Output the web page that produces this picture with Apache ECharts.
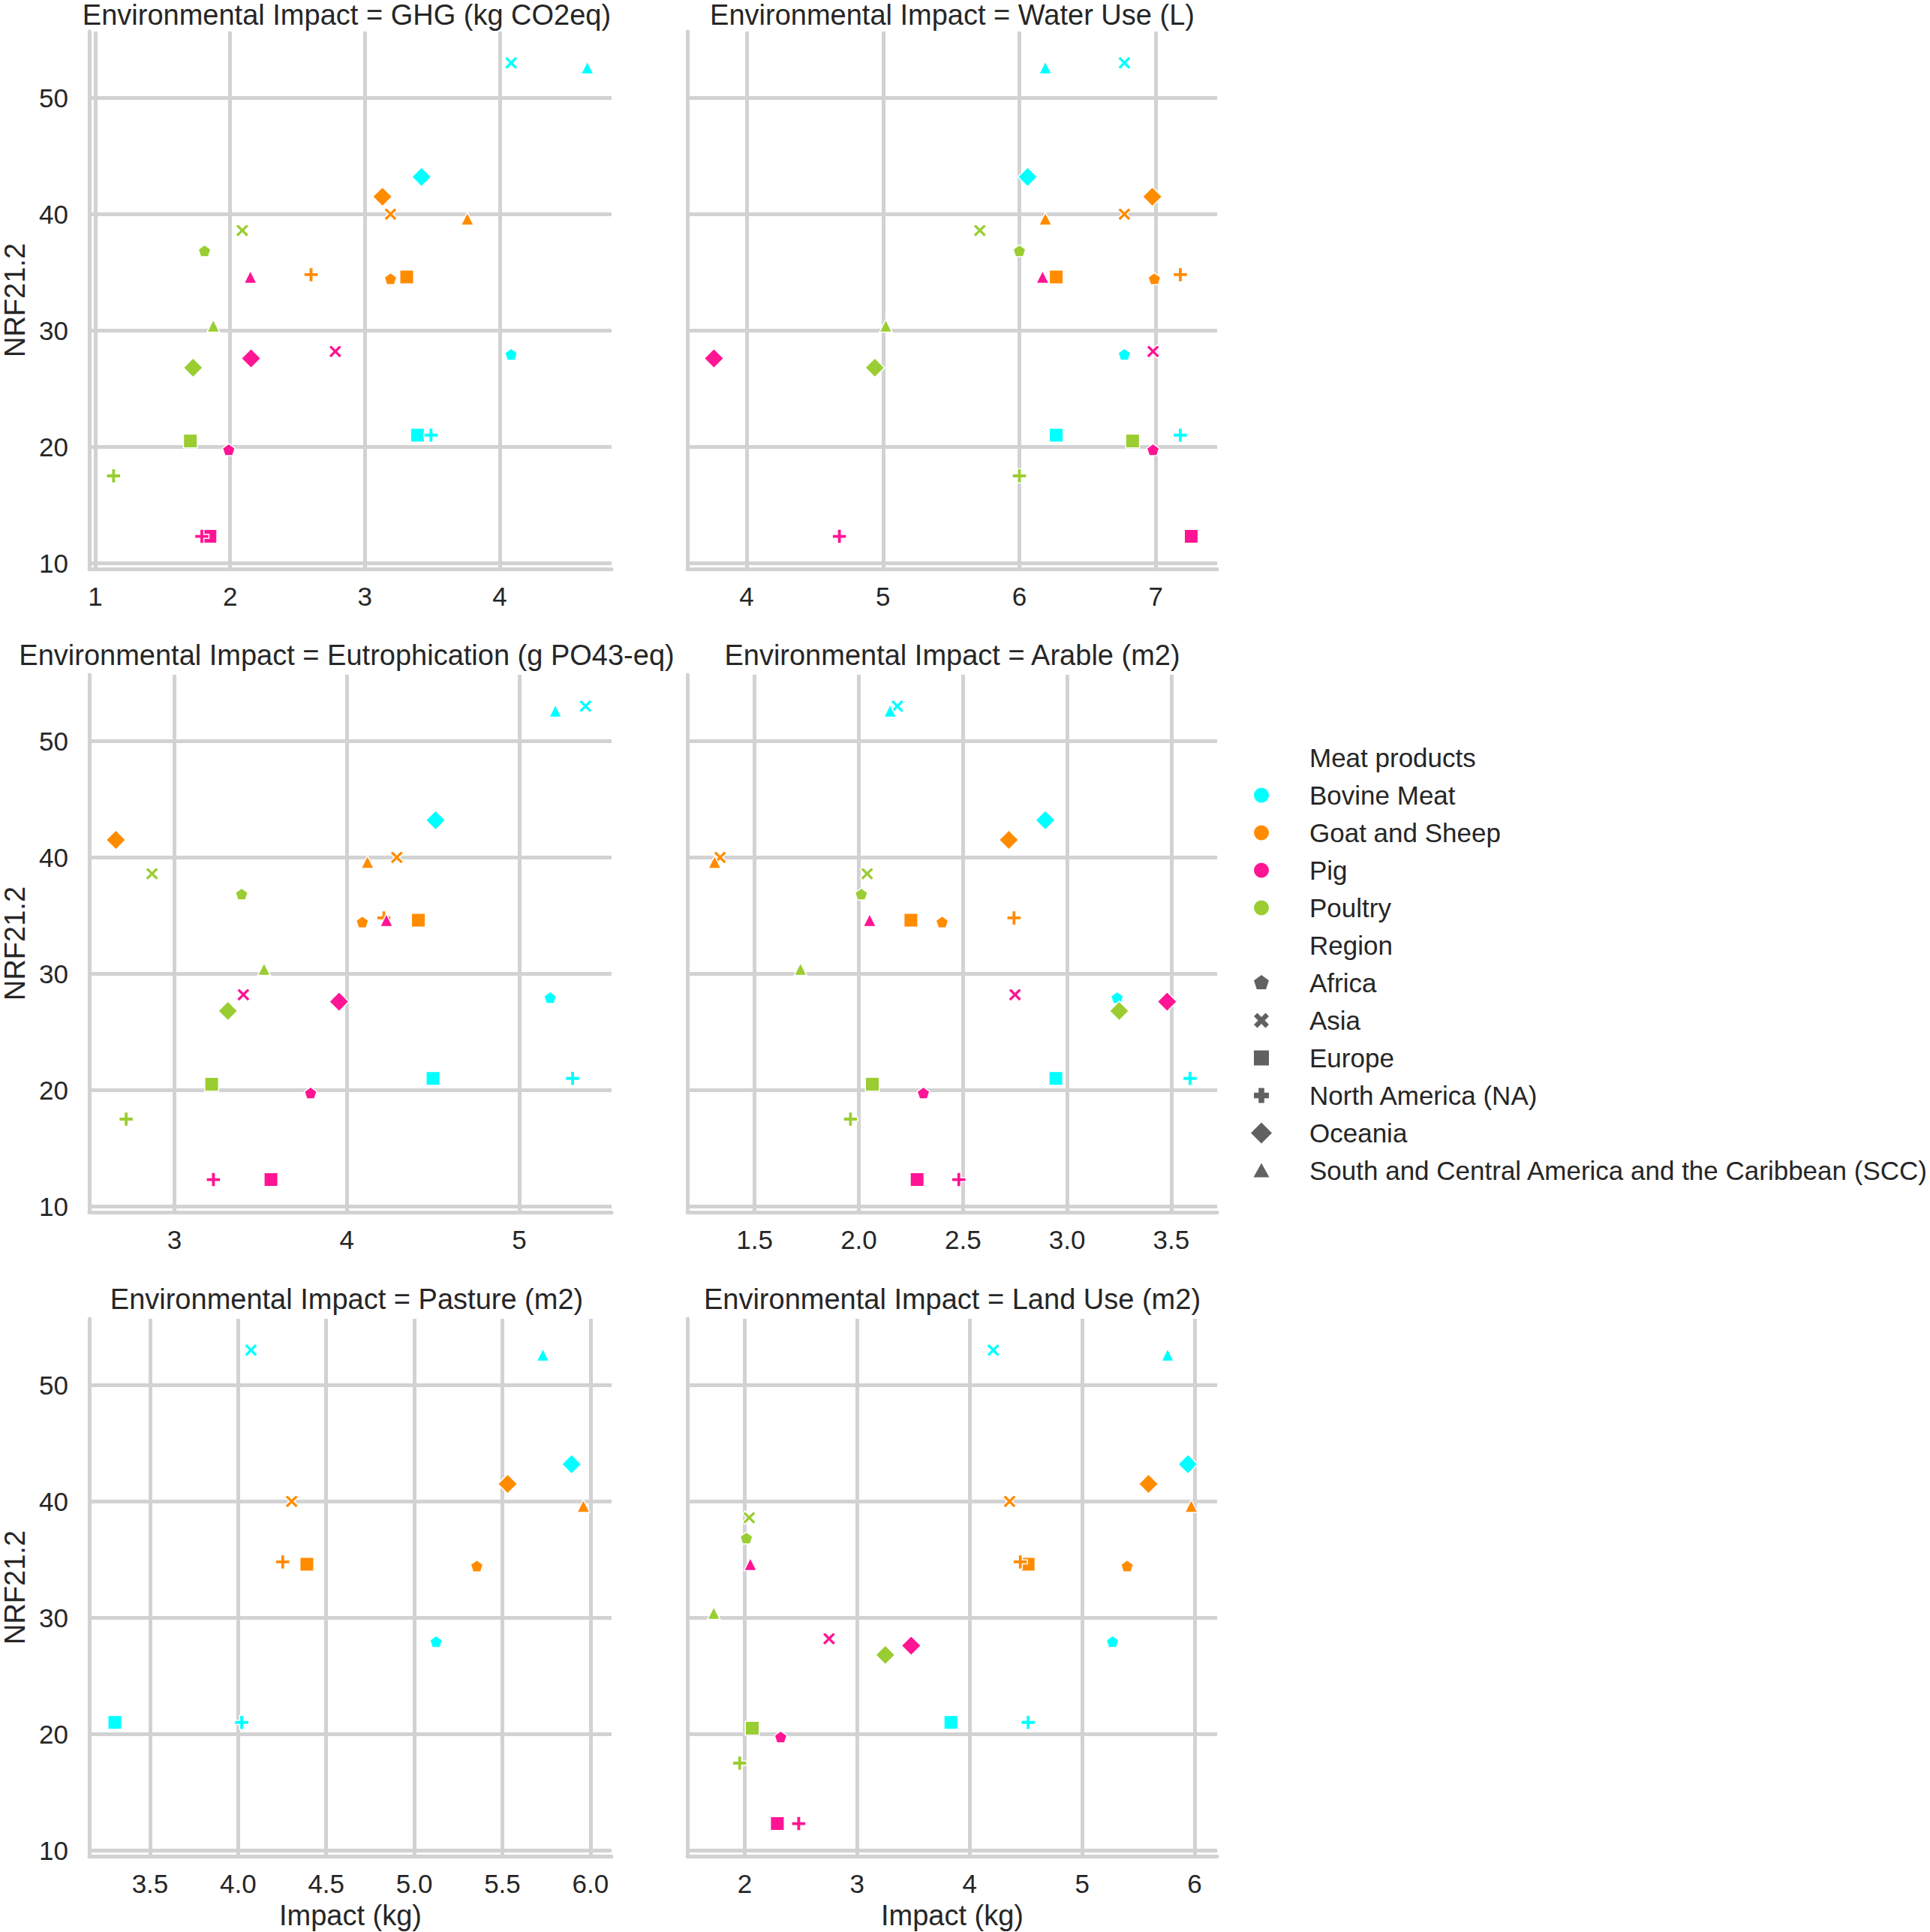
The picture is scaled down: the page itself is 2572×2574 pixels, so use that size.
<!DOCTYPE html>
<html>
<head>
<meta charset="utf-8">
<script src="https://cdn.jsdelivr.net/npm/echarts@6/dist/echarts.min.js"></script>
<style>html,body{margin:0;padding:0;background:#fff}#c{width:2572px;height:2574px}</style>
</head>
<body>
<div id="c"></div>
<script>
// ---------------- DATA ----------------
const products = ['Bovine Meat', 'Goat and Sheep', 'Pig', 'Poultry'];
const regions = ['Africa', 'Asia', 'Europe', 'North America (NA)', 'Oceania', 'South and Central America and the Caribbean (SCC)'];
const impactNames = ['GHG (kg CO2eq)', 'Water Use (L)', 'Eutrophication (g PO43-eq)', 'Arable (m2)', 'Pasture (m2)', 'Land Use (m2)'];

// NRF21.2 score per product, regions in the order above
const nrfBovine  = [27.9, 53.0, 21.0, 21.0, 43.2, 52.6];
const nrfGoat    = [34.4, 40.0, 34.6, 34.8, 41.5, 39.6];
const nrfPig     = [19.7, 28.2, 12.3, 12.3, 27.6, 34.6];
const nrfPoultry = [36.8, 38.6, 20.5, 17.5, 26.8, 30.4];

// Impact (kg) per panel: rows = products, columns = regions
const ghgImpact = [
  [4.085, 4.085, 3.39, 3.49, 3.42, 4.65],
  [3.19, 3.19, 3.31, 2.60, 3.13, 3.76],
  [1.99, 2.78, 1.85, 1.79, 2.155, 2.15],
  [1.81, 2.09, 1.705, 1.135, 1.725, 1.875]
];
const waterImpact = [
  [6.77, 6.77, 6.27, 7.18, 6.06, 6.19],
  [6.99, 6.77, 6.27, 7.18, 6.975, 6.19],
  [6.98, 6.98, 7.26, 4.68, 3.76, 6.17],
  [6.00, 5.71, 6.83, 6.00, 4.94, 5.02]
];
const eutroImpact = [
  [5.18, 5.385, 4.50, 5.31, 4.515, 5.21],
  [4.09, 4.29, 4.415, 4.215, 2.66, 4.12],
  [3.79, 3.40, 3.56, 3.226, 3.955, 4.23],
  [3.39, 2.87, 3.216, 2.72, 3.31, 3.52]
];
const arableImpact = [
  [3.24, 2.185, 2.946, 3.59, 2.895, 2.15],
  [2.40, 1.334, 2.25, 2.745, 2.72, 1.308],
  [2.31, 2.75, 2.28, 2.48, 3.48, 2.052],
  [2.012, 2.04, 2.065, 1.96, 3.25, 1.72]
];
const pastureImpact = [
  [5.124, 4.073, 3.30, 4.02, 5.893, 5.73],
  [5.355, 4.304, 4.39, 4.253, 5.53, 5.96],
  [null, null, null, null, null, null],
  [null, null, null, null, null, null]
];
const landImpact = [
  [5.27, 4.21, 3.833, 4.52, 5.94, 5.76],
  [5.40, 4.355, 4.52, 4.45, 5.59, 5.97],
  [2.32, 2.75, 2.29, 2.48, 3.48, 2.05],
  [2.015, 2.04, 2.067, 1.955, 3.25, 1.725]
];

// ---------------- STYLE / LAYOUT ----------------
const productColors = ['#00FFFF', '#FF8C00', '#FF1493', '#9ACD32'];
const regionLegendColor = '#3a3a3a';
const FONT = "'Liberation Sans', Arial, Helvetica, sans-serif";
const TXT = '#262626';
const GRIDC = '#d2d2d2';
const LW = 5;

const colLeft = [109, 916];
const rowTop = [42, 899, 1757];
const titleY = [20, 873, 1731];
const PW = 706, PH = 716;
const yRange = [9.5, 55.7];
const xRange = [[0.955, 4.83], [3.565, 7.45], [2.506, 5.536], [1.177, 3.72], [3.155, 6.12], [1.49, 6.2]];
const xStep = [1, 1, 1, 0.5, 0.5, 1];
const xDecimals = [0, 0, 0, 1, 1, 0];

// plot symbols (filled with white edge)
const regionSymbol = [
  'path://M-1,-1M1,1M0,-1L0.951,-0.309L0.588,0.809L-0.588,0.809L-0.951,-0.309Z',
  'path://M-0.62,-1L0,-0.38L0.62,-1L1,-0.62L0.38,0L1,0.62L0.62,1L0,0.38L-0.62,1L-1,0.62L-0.38,0L-1,-0.62Z',
  'rect',
  'path://M-0.28,-1L0.28,-1L0.28,-0.28L1,-0.28L1,0.28L0.28,0.28L0.28,1L-0.28,1L-0.28,0.28L-1,0.28L-1,-0.28L-0.28,-0.28Z',
  'diamond',
  'triangle'
];
const regionSize = [17.5, 18, 18.5, 19, 26, 17];

// legend icons drawn in a 118x28 box (icon centred at x=59)
const legendCircle = 'path://M0,0M118,28M49,14A10,10,0,1,0,69,14A10,10,0,1,0,49,14Z';
const legendRegionIcon = [
  'path://M0,0M118,28M59,3.5L68.99,10.76L65.17,22.49L52.83,22.49L49.01,10.76Z',
  'path://M0,0M118,28M53.5,4L59,9.5L64.5,4L69,8.5L63.5,14L69,19.5L64.5,24L59,18.5L53.5,24L49,19.5L54.5,14L49,8.5Z',
  'path://M0,0M118,28M49,4L69,4L69,24L49,24Z',
  'path://M0,0M118,28M55.2,4L62.8,4L62.8,10.2L69,10.2L69,17.8L62.8,17.8L62.8,24L55.2,24L55.2,17.8L49,17.8L49,10.2L55.2,10.2Z',
  'path://M0,0M118,28M59,0L73,14L59,28L45,14Z',
  'path://M0,0M118,28M59,4L69.5,23L48.5,23Z'
];

// ---------------- BUILD ----------------
const panelData = [ghgImpact, waterImpact, eutroImpact, arableImpact, pastureImpact, landImpact];
const nrf = [nrfBovine, nrfGoat, nrfPig, nrfPoultry];
const onStep = (v, s) => Math.abs(v / s - Math.round(v / s)) < 1e-6;

const grids = [], xAxes = [], yAxes = [], titles = [], series = [];
for (let p = 0; p < 6; p++) {
  const col = p % 2, row = Math.floor(p / 2);
  const left = colLeft[col], top = rowTop[row];
  grids.push({ left: left, top: top, width: PW, height: PH, containLabel: false });
  titles.push({
    text: 'Environmental Impact = ' + impactNames[p],
    left: left + PW / 2, top: titleY[row], textAlign: 'center', textVerticalAlign: 'middle', padding: 0,
    textStyle: { fontFamily: FONT, fontSize: 38, fontWeight: 'normal', color: TXT, lineHeight: 30 }
  });
  const step = xStep[p], dec = xDecimals[p];
  xAxes.push({
    type: 'value', gridIndex: p, min: xRange[p][0], max: xRange[p][1],
    minInterval: step, maxInterval: step, splitNumber: 5,
    name: row === 2 ? 'Impact (kg)' : '', nameLocation: 'middle', nameGap: 60,
    nameTextStyle: { fontFamily: FONT, fontSize: 38, color: TXT },
    axisLine: { show: true, onZero: false, lineStyle: { color: GRIDC, width: LW } },
    axisTick: { show: false },
    axisLabel: { show: true, margin: 19, showMinLabel: true, showMaxLabel: true, fontFamily: FONT, fontSize: 35, color: TXT,
      formatter: v => onStep(v, step) ? v.toFixed(dec) : '' },
    splitLine: { show: true, showMinLine: false, showMaxLine: false, lineStyle: { color: GRIDC, width: LW } }
  });
  yAxes.push({
    type: 'value', gridIndex: p, min: yRange[0], max: yRange[1],
    minInterval: 10, maxInterval: 10, splitNumber: 5,
    name: col === 0 ? 'NRF21.2' : '', nameLocation: 'middle', nameGap: 80,
    nameTextStyle: { fontFamily: FONT, fontSize: 38, color: TXT },
    axisLine: { show: true, onZero: false, lineStyle: { color: GRIDC, width: LW } },
    axisTick: { show: false },
    axisLabel: { show: col === 0, margin: 28, showMinLabel: true, showMaxLabel: true, fontFamily: FONT, fontSize: 35, color: TXT,
      formatter: v => onStep(v, 10) ? String(Math.round(v)) : '' },
    splitLine: { show: true, showMinLine: false, showMaxLine: false, lineStyle: { color: GRIDC, width: LW } }
  });
  for (let k = 0; k < products.length; k++) {
    const data = [];
    for (let j = 0; j < regions.length; j++) {
      const x = panelData[p][k][j];
      if (x == null) continue;
      data.push({ value: [x, nrf[k][j]], symbol: regionSymbol[j], symbolSize: regionSize[j] });
    }
    series.push({
      type: 'scatter', name: products[k], xAxisIndex: p, yAxisIndex: p, data: data,
      itemStyle: { color: productColors[k], borderColor: '#ffffff', borderWidth: 1.5, opacity: 1 },
      emphasis: { disabled: true }, silent: true, animation: false, z: 3
    });
  }
}

// legend-only series (headers and region shapes)
const legendData = [];
series.push({ type: 'scatter', name: 'Meat products', xAxisIndex: 0, yAxisIndex: 0, data: [], itemStyle: { color: 'rgba(0,0,0,0)' } });
legendData.push({ name: 'Meat products', icon: 'rect', itemStyle: { color: 'rgba(0,0,0,0)', borderWidth: 0, opacity: 0 } });
products.forEach((name, k) => legendData.push({ name: name, icon: legendCircle, itemStyle: { color: productColors[k], borderWidth: 0 } }));
series.push({ type: 'scatter', name: 'Region', xAxisIndex: 0, yAxisIndex: 0, data: [], itemStyle: { color: 'rgba(0,0,0,0)' } });
legendData.push({ name: 'Region', icon: 'rect', itemStyle: { color: 'rgba(0,0,0,0)', borderWidth: 0, opacity: 0 } });
regions.forEach((name, j) => {
  series.push({ type: 'scatter', name: name, xAxisIndex: 0, yAxisIndex: 0, data: [], itemStyle: { color: regionLegendColor } });
  legendData.push({ name: name, icon: legendRegionIcon[j], itemStyle: { color: regionLegendColor, borderWidth: 0 } });
});

const chart = echarts.init(document.getElementById('c'), null, { renderer: 'svg', width: 2572, height: 2574 });
chart.setOption({
  backgroundColor: '#ffffff',
  animation: false,
  textStyle: { fontFamily: FONT },
  title: titles,
  grid: grids,
  xAxis: xAxes,
  yAxis: yAxes,
  legend: {
    orient: 'vertical', left: 1622, top: 992, padding: 0,
    itemWidth: 118, itemHeight: 28, itemGap: 15,
    selectedMode: false,
    textStyle: { fontFamily: FONT, fontSize: 35, color: TXT, lineHeight: 35 },
    data: legendData
  },
  series: series
});
</script>
</body>
</html>
